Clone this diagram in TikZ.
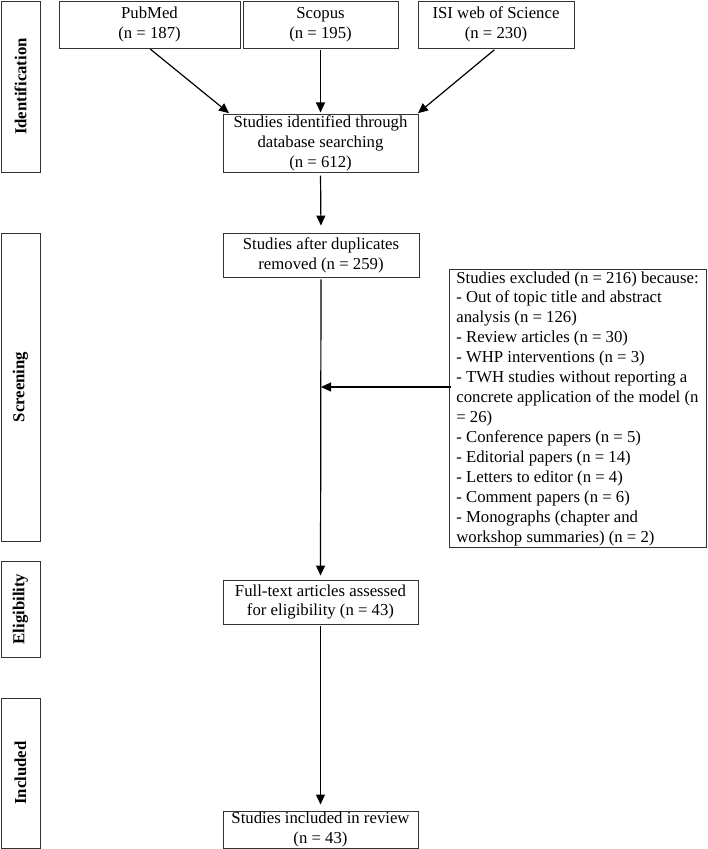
\documentclass[tikz,border=0pt]{standalone}
\usepackage{fontspec}
\setmainfont{Liberation Serif}
\usetikzlibrary{arrows.meta}

\begin{document}
\begin{tikzpicture}[
        x=1bp, y=-1bp,
        every node/.style={font=\fontsize{16.8}{20}\selectfont},
        box/.style={draw=black!80, line width=0.9bp, rectangle, align=center, inner sep=1bp},
        listbox/.style={draw=black!80, line width=0.9bp, rectangle, align=left, inner sep=2bp},
        phase/.style={draw=black!80, line width=0.9bp, rectangle, rotate=90, minimum height=39bp, font=\fontsize{16.8}{20}\selectfont\bfseries},
        arrow/.style={line width=1.2bp, -{Triangle[length=10bp,width=9bp]}}
    ]

        \useasboundingbox (0,0) rectangle (708,849);

        % phases on the left
        \node[phase, minimum width=171bp] (identification) at (20.5,86.5) {Identification};
        \node[phase, minimum width=308bp] (screening) at (20.5,387) {Screening};
        \node[phase, minimum width=96bp] (eligibility) at (20.5,609) {Eligibility};
        \node[phase, minimum width=150bp] (included) at (20.5,773) {Included};

        % databases
        \node[box, minimum width=181bp, minimum height=47bp] (pubmed) at (149.5,24.5) {PubMed\\(n = 187)};
        \node[box, minimum width=155bp, minimum height=47bp] (scopus) at (320.5,24.5) {Scopus\\(n = 195)};
        \node[box, minimum width=156bp, minimum height=47bp] (isi) at (496,24.5) {ISI web of Science\\(n = 230)};

        % main flow
        \node[box, minimum width=195bp, minimum height=57bp] (identified) at (320.5,143.5) {Studies identified through\\database searching\\(n = 612)};
        \node[box, minimum width=196bp, minimum height=44bp] (duplicates) at (321,255) {Studies after duplicates\\removed (n = 259)};
        \node[box, minimum width=195bp, minimum height=44bp] (fulltext) at (320.5,602) {Full-text articles assessed\\for eligibility (n = 43)};
        \node[box, minimum width=195bp, minimum height=37bp] (review) at (320.5,829.5) {Studies included in review\\(n = 43)};

        % exclusions
        \node[listbox, minimum width=257bp, minimum height=267bp] (excluded) at (577.5,408.5) {Studies excluded (n = 216) because:\\
            - Out of topic title and abstract\\
            analysis (n = 126)\\
            - Review articles (n = 30)\\
            - WHP interventions (n = 3)\\
            - TWH studies without reporting a\\
            concrete application of the model (n\\
            = 26)\\
            - Conference papers (n = 5)\\
            - Editorial papers (n = 14)\\
            - Letters to editor (n = 4)\\
            - Comment papers (n = 6)\\
            - Monographs (chapter and\\
            workshop summaries) (n = 2)};

        \coordinate (join) at (321,387);

        \draw[arrow, shorten <=1bp, shorten >=2bp] (pubmed.south) -- ([xshift=8bp]identified.north west);
        \draw[arrow, shorten <=2bp, shorten >=2bp] (scopus.south) -- (identified.north);
        \draw[arrow, shorten <=2bp, shorten >=2bp] (isi.south) -- ([xshift=-2bp]identified.north east);
        \draw[arrow, shorten <=3bp, shorten >=7bp] (identified.south) -- (duplicates.north);
        \draw[arrow, shorten <=2bp, shorten >=4bp] (duplicates.south) -- (fulltext.north);
        \draw[arrow, shorten <=-2bp] (excluded.west |- join) -- (join);
        \draw[arrow, shorten <=2bp, shorten >=6bp] (fulltext.south) -- (review.north);

    \end{tikzpicture}
\end{document}
